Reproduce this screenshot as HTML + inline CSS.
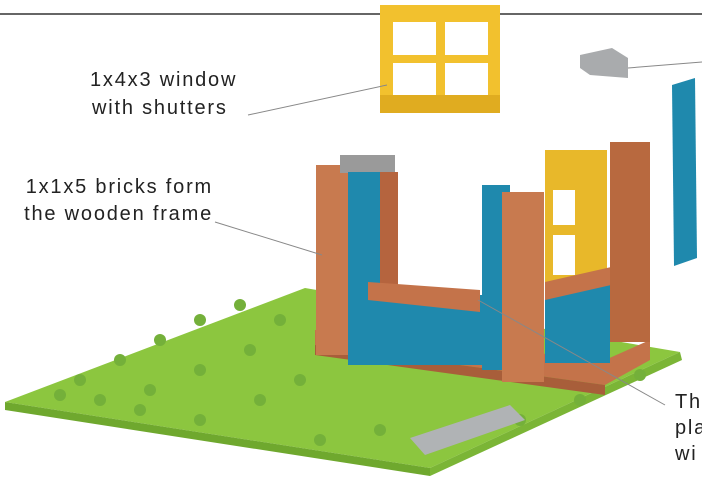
<!DOCTYPE html><html><head><style>body{margin:0;background:#fff}svg{display:block}text{font-family:"Liberation Sans",sans-serif;font-size:20px;fill:#222;letter-spacing:1.8px}</style></head><body>
<svg width="702" height="477" viewBox="0 0 702 477">
<line x1="0" y1="14" x2="702" y2="14" stroke="#333" stroke-width="1.5"/>
<polygon points="5,402 305,288 680,352 430,468" fill="#8cc63f"/>
<polygon points="5,402 430,468 430,476 5,410" fill="#6fa82e"/>
<polygon points="430,468 680,352 682,360 430,476" fill="#7bb536"/>
<g fill="#74b03a">
<circle cx="80" cy="380" r="6"/><circle cx="120" cy="360" r="6"/><circle cx="160" cy="340" r="6"/><circle cx="200" cy="320" r="6"/><circle cx="240" cy="305" r="6"/><circle cx="100" cy="400" r="6"/><circle cx="150" cy="390" r="6"/><circle cx="200" cy="370" r="6"/><circle cx="250" cy="350" r="6"/><circle cx="280" cy="320" r="6"/><circle cx="200" cy="420" r="6"/><circle cx="260" cy="400" r="6"/><circle cx="300" cy="380" r="6"/><circle cx="320" cy="440" r="6"/><circle cx="380" cy="430" r="6"/><circle cx="520" cy="420" r="6"/><circle cx="580" cy="400" r="6"/><circle cx="640" cy="375" r="6"/><circle cx="60" cy="395" r="6"/><circle cx="140" cy="410" r="6"/></g>
<polygon points="410,438 510,405 525,420 425,455" fill="#b0b3b5"/>
<polygon points="315,345 605,385 650,360 650,340 605,360 315,330" fill="#c4734a"/>
<polygon points="315,355 605,395 605,385 315,345" fill="#a85e3a"/>
<rect x="316" y="165" width="32" height="190" fill="#c87a4f"/>
<rect x="340" y="155" width="55" height="18" fill="#9a9a9a"/>
<rect x="348" y="172" width="32" height="180" fill="#1f89ad"/>
<rect x="380" y="172" width="18" height="120" fill="#b5643e"/>
<rect x="348" y="295" width="155" height="70" fill="#1f89ad"/>
<polygon points="368,282 480,290 480,312 368,300" fill="#c4734a"/>
<rect x="482" y="185" width="28" height="185" fill="#1f89ad"/>
<rect x="545" y="150" width="62" height="140" fill="#e8b82a"/>
<rect x="553" y="190" width="22" height="35" fill="#fff"/><rect x="553" y="235" width="22" height="40" fill="#fff"/>
<rect x="545" y="285" width="65" height="78" fill="#1f89ad"/>
<polygon points="545,282 620,265 620,283 545,300" fill="#c4734a"/>
<rect x="502" y="192" width="42" height="190" fill="#c87a4f"/>
<rect x="610" y="142" width="40" height="200" fill="#b8693f"/>
<rect x="380" y="5" width="120" height="108" fill="#f2c12e"/>
<rect x="393" y="22" width="43" height="33" fill="#fff"/><rect x="445" y="22" width="43" height="33" fill="#fff"/>
<rect x="393" y="63" width="43" height="33" fill="#fff"/><rect x="445" y="63" width="43" height="33" fill="#fff"/>
<rect x="380" y="95" width="120" height="18" fill="#e0ac20"/>
<polygon points="580,55 612,48 628,58 628,78 590,75 580,68" fill="#a9abad"/>
<polygon points="672,85 695,78 697,258 674,266" fill="#1f89ad"/>
<g stroke="#888" stroke-width="1"><line x1="248" y1="115" x2="387" y2="85"/><line x1="215" y1="222" x2="322" y2="255"/><line x1="478" y1="300" x2="665" y2="405"/><line x1="628" y1="68" x2="702" y2="62"/></g>
<text x="90" y="86">1x4x3 window</text><text x="92" y="114">with shutters</text>
<text x="213" y="193" text-anchor="end">1x1x5 bricks form</text><text x="213" y="220" text-anchor="end">the wooden frame</text>
<text x="675" y="408">Th</text><text x="675" y="434">pla</text><text x="675" y="460">wi</text>
</svg></body></html>
